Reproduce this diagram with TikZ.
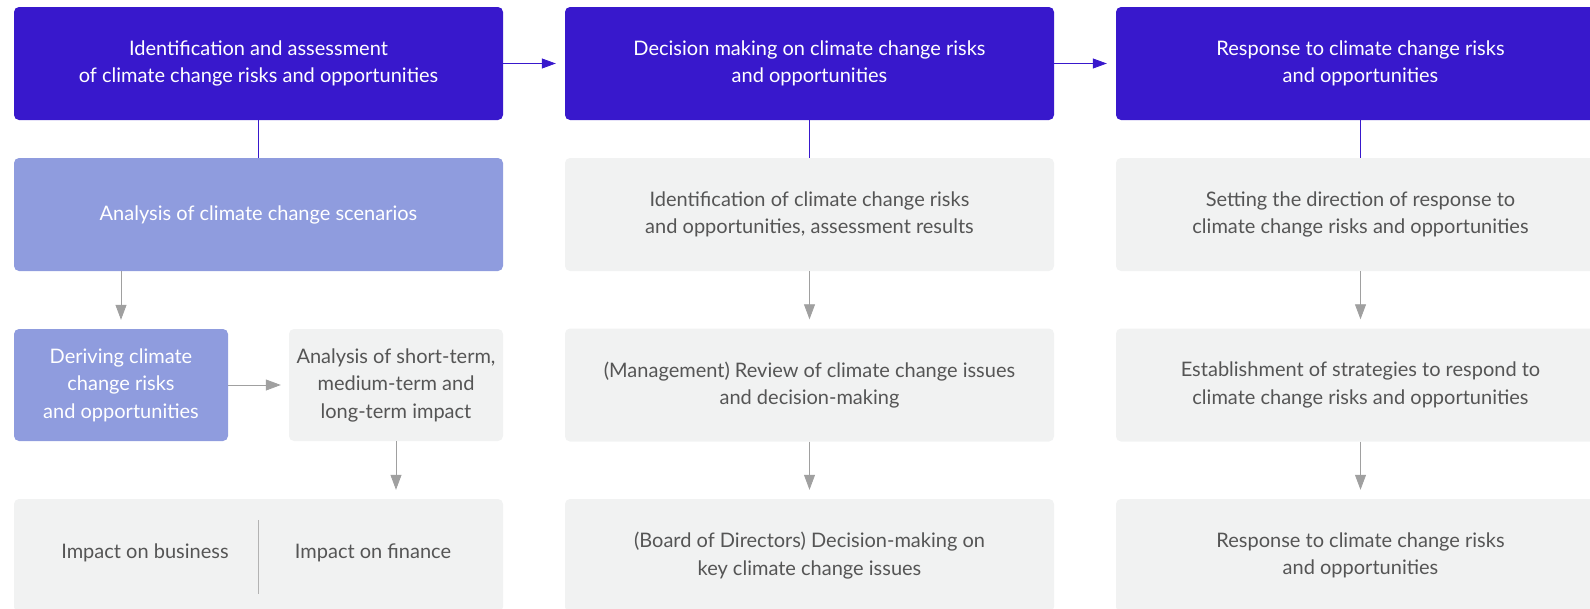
\documentclass[tikz,border=0pt]{standalone}
\usepackage{fontspec}
\setmainfont{Lato}
\usetikzlibrary{arrows.meta,calc}
\definecolor{dblue}{RGB}{56,24,204}
\definecolor{lpurple}{RGB}{143,156,222}
\definecolor{lgrey}{RGB}{241,242,242}
\definecolor{tgrey}{RGB}{85,85,85}
\definecolor{agrey}{RGB}{160,160,160}
\tikzset{
  x=1pt,y=-1pt,
  box/.style={rounded corners=5pt,minimum width=489pt,minimum height=113pt,inner sep=0pt,align=center,font=\fontsize{20}{27.5}\selectfont},
  darkbox/.style={box,fill=dblue,text=white},
  purplebox/.style={box,fill=lpurple,text=white},
  greybox/.style={box,fill=lgrey,text=tgrey},
  smallbox/.style={minimum width=214pt,minimum height=112pt},
  bluelink/.style={draw=dblue,line width=0.8pt},
  bluearrow/.style={bluelink,-{Triangle[width=10pt,length=14pt]}},
  greyarrow/.style={draw=agrey,line width=0.8pt,-{Triangle[width=11pt,length=15pt]}},
  plain/.style={font=\fontsize{20}{27.5}\selectfont,text=tgrey,inner sep=0pt},
}
\begin{document}
\begin{tikzpicture}
\clip (0,0) rectangle (1590,608);
\useasboundingbox (0,0) rectangle (1590,608);
% top row
\node[darkbox] (A) at (258.5,63.5) {Identification and assessment\\of climate change risks and opportunities};
\node[darkbox] (B) at (809.5,63.5) {Decision making on climate change risks\\and opportunities};
\node[darkbox] (C) at (1360.5,63.5) {Response to climate change risks\\and opportunities};
% row 2
\node[purplebox] (A2) at (258.5,214.5) {Analysis of climate change scenarios};
\node[greybox] (B2) at (809.5,214.5) {Identification of climate change risks\\and opportunities, assessment results};
\node[greybox] (C2) at (1360.5,214.5) {Setting the direction of response to\\climate change risks and opportunities};
% row 3
\node[purplebox,smallbox] (D) at (121,385) {Deriving climate\\change risks\\and opportunities};
\node[greybox,smallbox] (S) at (396,385) {Analysis of short-term,\\medium-term and\\long-term impact};
\node[greybox] (B3) at (809.5,385) {(Management) Review of climate change issues\\and decision-making};
\node[greybox] (C3) at (1360.5,385) {Establishment of strategies to respond to\\climate change risks and opportunities};
% row 4
\node[greybox] (A4) at (258.5,555.5) {};
\node[plain] (IB) at (145,553) {Impact on business};
\node[plain] (IF) at (373,553) {Impact on finance};
\node[greybox] (B4) at (809.5,555.5) {(Board of Directors) Decision-making on\\key climate change issues};
\node[greybox] (C4) at (1360.5,555.5) {Response to climate change risks\\and opportunities};
% divider
\draw[draw=agrey!80,line width=1pt] ([yshift=-38pt]A4.center) -- ([yshift=36pt]A4.center);
% blue connectors
\draw[bluearrow,shorten >=9pt] (A.east) -- (B.west);
\draw[bluearrow,shorten >=9pt] (B.east) -- (C.west);
\draw[bluelink] (A.south) -- (A2.north);
\draw[bluelink] (B.south) -- (B2.north);
\draw[bluelink] (C.south) -- (C2.north);
% grey arrows
\draw[greyarrow,shorten >=9pt] (A2.south -| D.north) -- (D.north);
\draw[greyarrow,shorten >=8pt] (D.east) -- (S.west);
\draw[greyarrow,shorten >=9pt] (S.south) -- (S.south |- A4.north);
\draw[greyarrow,shorten >=9pt] (B2.south) -- (B3.north);
\draw[greyarrow,shorten >=9pt] (B3.south) -- (B4.north);
\draw[greyarrow,shorten >=9pt] (C2.south) -- (C3.north);
\draw[greyarrow,shorten >=9pt] (C3.south) -- (C4.north);
\end{tikzpicture}
\end{document}
